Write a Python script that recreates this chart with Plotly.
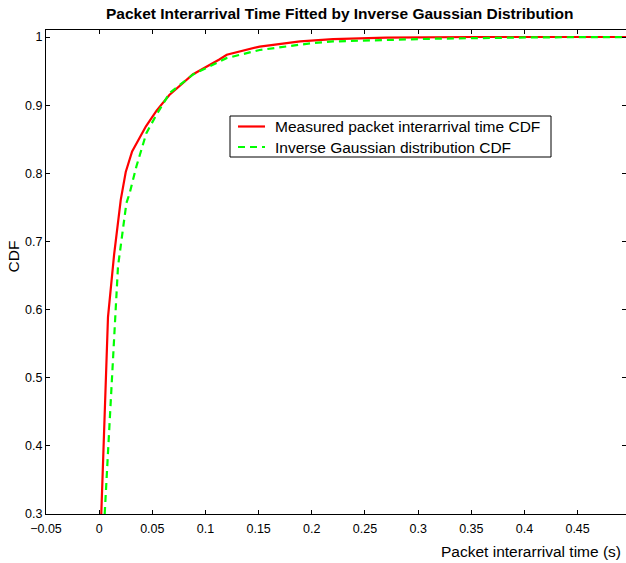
import plotly.graph_objects as go

# Measured packet interarrival time CDF
meas_x = [0.002, 0.0083, 0.014, 0.0203, 0.025, 0.031, 0.044, 0.054, 0.066, 0.088,
          0.113, 0.120, 0.151, 0.189, 0.22, 0.27, 0.35, 0.5]
meas_y = [0.30, 0.589, 0.68, 0.761, 0.802, 0.832, 0.869, 0.892, 0.915, 0.945,
          0.967, 0.974, 0.986, 0.9935, 0.997, 0.999, 1.0, 1.0]

# Inverse Gaussian distribution CDF
ig_x = [0.0052, 0.0075, 0.0099, 0.0146, 0.0177, 0.0256, 0.0287, 0.035, 0.0444, 0.0539,
        0.0664, 0.0883, 0.1197, 0.151, 0.2, 0.22, 0.314, 0.408, 0.5]
ig_y = [0.30, 0.37, 0.4425, 0.589, 0.663, 0.756, 0.771, 0.81, 0.859, 0.886,
        0.918, 0.945, 0.969, 0.981, 0.991, 0.9935, 0.9975, 0.9995, 1.0]

x_ticks = [-0.05, 0, 0.05, 0.1, 0.15, 0.2, 0.25, 0.3, 0.35, 0.4, 0.45]
x_tick_labels = ["\u22120.05", "0", "0.05", "0.1", "0.15", "0.2", "0.25", "0.3", "0.35", "0.4", "0.45"]
y_ticks = [0.3, 0.4, 0.5, 0.6, 0.7, 0.8, 0.9, 1.0]
y_tick_labels = ["0.3", "0.4", "0.5", "0.6", "0.7", "0.8", "0.9", "1"]

series_names = ["Measured packet interarrival time CDF", "Inverse Gaussian distribution CDF"]
series_colors = ["#ff0000", "#00ff00"]
series_dash = ["solid", "7px,5px"]

FONT = "Liberation Sans, Arial, Helvetica, sans-serif"

fig = go.Figure()
fig.add_trace(go.Scatter(x=meas_x, y=meas_y, mode="lines", name=series_names[0],
                         line=dict(color=series_colors[0], width=2.2, dash=series_dash[0])))
fig.add_trace(go.Scatter(x=ig_x, y=ig_y, mode="lines", name=series_names[1],
                         line=dict(color=series_colors[1], width=2.2, dash=series_dash[1])))

W, H = 626, 563
L, R, T, B = 46, 0, 30, 49
PW, PH = W - L - R, H - T - B


def px(x):
    return (x - L) / PW


def py(y):
    return 1 - (y - T) / PH


# manual legend (box, line samples, labels)
LEG_X0, LEG_X1, LEG_Y0, LEG_Y1 = 230, 551, 116, 157
row_y = [126.5, 147]
shapes = [dict(type="rect", xref="paper", yref="paper",
               x0=px(LEG_X0), x1=px(LEG_X1), y0=py(LEG_Y1), y1=py(LEG_Y0),
               line=dict(color="black", width=1), fillcolor="white", layer="above")]
annotations = []
for i, name in enumerate(series_names):
    shapes.append(dict(type="line", xref="paper", yref="paper",
                       x0=px(238), x1=px(265), y0=py(row_y[i]), y1=py(row_y[i]),
                       line=dict(color=series_colors[i], width=2.2,
                                 dash="solid" if i == 0 else "7px,5px"),
                       layer="above"))
    annotations.append(dict(text=name, xref="paper", yref="paper",
                            x=px(273), y=py(row_y[i]), xanchor="left", yanchor="middle",
                            showarrow=False, font=dict(family=FONT, size=15.5)))

annotations += [
    dict(text="<b>Packet Interarrival Time Fitted by Inverse Gaussian Distribution</b>",
         xref="paper", yref="paper", x=px(339.5), y=py(13.5),
         xanchor="center", yanchor="middle", showarrow=False,
         font=dict(family=FONT, size=15.5)),
    dict(text="Packet interarrival time (s)", xref="paper", yref="paper",
         x=px(623), y=py(551), xanchor="right", yanchor="middle", showarrow=False,
         font=dict(family=FONT, size=15.5)),
    dict(text="CDF", xref="paper", yref="paper", x=px(12.5), y=py(257),
         xanchor="center", yanchor="middle", textangle=-90, showarrow=False,
         font=dict(family=FONT, size=15.5)),
]

fig.update_layout(
    width=W, height=H,
    margin=dict(l=L, r=R, t=T, b=B),
    paper_bgcolor="white", plot_bgcolor="white",
    font=dict(family=FONT, size=13, color="black"),
    showlegend=False,
    xaxis=dict(
        range=[-0.05, 0.4955], tickmode="array", tickvals=x_ticks, ticktext=x_tick_labels,
        ticks="inside", ticklen=4, tickcolor="black", showline=True, linecolor="black",
        linewidth=1.3, mirror="ticks", showgrid=False, zeroline=False,
        tickfont=dict(family=FONT, size=12.5), ticklabelstandoff=3,
    ),
    yaxis=dict(
        range=[0.3, 1.0103], tickmode="array", tickvals=y_ticks, ticktext=y_tick_labels,
        ticks="inside", ticklen=4, tickcolor="black", showline=True, linecolor="black",
        linewidth=1.3, mirror="ticks", showgrid=False, zeroline=False,
        tickfont=dict(family=FONT, size=12.5),
    ),
    shapes=shapes,
    annotations=annotations,
)

fig.write_html("out.html", config={"displayModeBar": False},
               post_script="document.body.style.margin='0px';document.body.style.overflow='hidden';")
